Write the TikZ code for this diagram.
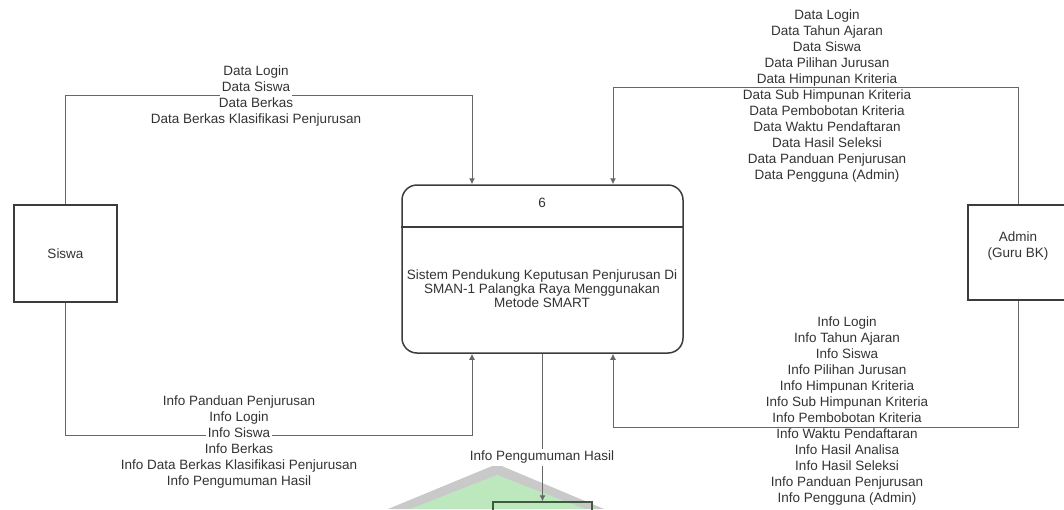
\documentclass[tikz,border=0pt]{standalone}
\usepackage{fontspec}
\setmainfont{Liberation Sans}
\usetikzlibrary{arrows.meta}
\definecolor{ink}{HTML}{333333}
\definecolor{wire}{HTML}{666666}
\definecolor{edge}{HTML}{3C3C3C}
\definecolor{roof}{HTML}{C9C9C9}
\definecolor{leaf}{HTML}{BDE8BD}
\definecolor{darkleaf}{HTML}{3D5C3D}
\begin{document}
\begin{tikzpicture}[x=0.5pt,y=-0.5pt,
  lbl/.style={font=\fontsize{6.75}{8}\selectfont,text=ink,inner sep=0pt,align=center},
  cut/.style={lbl,fill=white,inner xsep=1pt,text height=6pt,text depth=2.5pt},
  entity/.style={lbl,draw=edge,line width=0.75pt,minimum width=51.5pt,minimum height=48.5pt},
  flow/.style={draw=wire,line width=0.5pt,-{Latex[length=3pt,width=3pt]}},
]
\useasboundingbox (0,0) rectangle (1064,509);

% faint logo behind the lower part
\fill[roof] (388,509) -- (497,464) -- (604,509) -- cycle;
\fill[leaf] (410,509) -- (497,475) -- (585,509) -- cycle;

% external entities
\node[entity] (siswa) at (65.5,253.5) {Siswa};
\node[entity,minimum width=50pt,minimum height=47.5pt] (admin) at (1018,252.5) {};
\node[lbl] (admintxt) at (1018,246) {Admin\\(Guru BK)};
\node[draw=darkleaf,line width=0.75pt,minimum width=49.5pt,minimum height=30pt,inner sep=0pt] (hasil) at (542.5,532) {};

% process
\node[draw=edge,line width=0.75pt,rounded corners=7.5pt,minimum width=140.5pt,minimum height=84pt,inner sep=0pt] (proc) at (542.5,269) {};
\draw[edge,line width=0.75pt] (proc.west |- 0,227) -- (proc.east |- 0,227);
\node[lbl] (pnum) at (542,203) {6};
\node[lbl,font=\fontsize{6.75}{7}\selectfont] (pname) at (542,289)
  {Sistem Pendukung Keputusan Penjurusan Di\\SMAN-1 Palangka Raya Menggunakan\\Metode SMART};

% data flows
\draw[flow] (siswa.north) -- ++(0,-109) -| (proc.north -| 472,0);
\draw[flow] (admin.north) -- ++(0,-117) -| (proc.north -| 613,0);
\draw[flow] (siswa.south) -- ++(0,133) -| (proc.south -| 472,0);
\draw[flow] (admin.south) -- ++(0,127) -| (proc.south -| 613,0);
\draw[flow] (proc.south) -- (hasil.north);

% flow labels
\node[cut] (ds1) at (256,72) {Data Login};
\node[cut] (ds2) at (256,88) {Data Siswa};
\node[cut] (ds3) at (256,104) {Data Berkas};
\node[cut] (ds4) at (256,120) {Data Berkas Klasifikasi Penjurusan};

\node[cut] (is1) at (239,402) {Info Panduan Penjurusan};
\node[cut] (is2) at (239,418) {Info Login};
\node[cut] (is3) at (239,434) {Info Siswa};
\node[cut] (is4) at (239,450) {Info Berkas};
\node[cut] (is5) at (239,466) {Info Data Berkas Klasifikasi Penjurusan};
\node[cut] (is6) at (239,482) {Info Pengumuman Hasil};

\node[cut] (ih) at (542,457) {Info Pengumuman Hasil};

\node[lbl] (dataadmin) at (827,96) {Data Login\\Data Tahun Ajaran\\Data Siswa\\Data Pilihan Jurusan\\Data Himpunan Kriteria\\Data Sub Himpunan Kriteria\\Data Pembobotan Kriteria\\Data Waktu Pendaftaran\\Data Hasil Seleksi\\Data Panduan Penjurusan\\Data Pengguna (Admin)};

\node[lbl] (infoadmin) at (847,411) {Info Login\\Info Tahun Ajaran\\Info Siswa\\Info Pilihan Jurusan\\Info Himpunan Kriteria\\Info Sub Himpunan Kriteria\\Info Pembobotan Kriteria\\Info Waktu Pendaftaran\\Info Hasil Analisa\\Info Hasil Seleksi\\Info Panduan Penjurusan\\Info Pengguna (Admin)};
\end{tikzpicture}
\end{document}
